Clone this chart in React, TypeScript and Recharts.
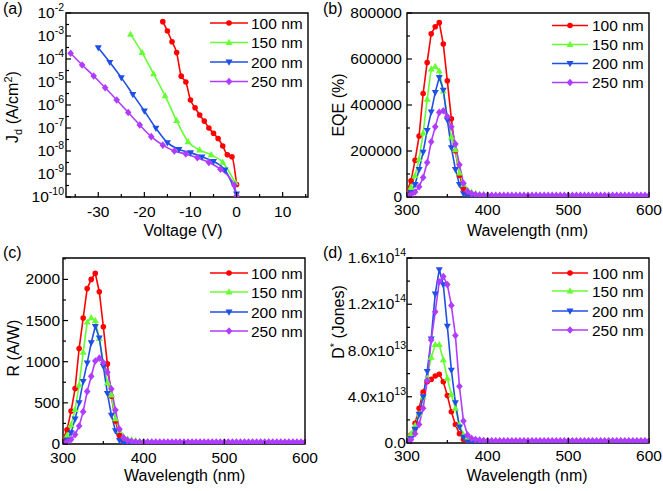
import React from 'react'
import { LineChart, Line, XAxis, YAxis, ReferenceArea, Customized } from 'recharts'

const FONT = '"Liberation Sans", Arial, Helvetica, sans-serif'

// legend entries (film thickness)
const thickness = ['100 nm', '150 nm', '200 nm', '250 nm']
const colors = ['#ff0000', '#66ff33', '#1f4fe6', '#b03cff']
type Shape = 'circle' | 'up' | 'down' | 'diamond'
const shapes: Shape[] = ['circle', 'up', 'down', 'diamond']
const keys = ['s100', 's150', 's200', 's250']

// (a) dark current: voltage (V) and current density (A/cm2)
const v100 = [-16, -15, -14, -13, -12, -11, -10, -9, -8, -7, -6, -5, -4, -3, -2, -1, 0]
const j100 = [4.2e-3, 1.66e-3, 5.6e-4, 1.9e-4, 1.8e-5, 1.0e-5, 1.66e-6, 7.6e-7, 3.7e-7, 2.0e-7, 1.0e-7, 5.9e-8, 3.5e-8, 1.66e-8, 6.8e-9, 5.6e-9, 3.5e-10]
const v150 = [-23, -20.5, -18, -15.5, -13, -10.5, -8, -5.5, -3, -0.3]
const j150 = [1.17e-3, 1.9e-4, 2.24e-5, 2.5e-6, 2.1e-7, 2.5e-8, 1.1e-8, 6.8e-9, 3.2e-9, 4.2e-10]
const v200 = [-30, -27.5, -25, -22.5, -20, -17.5, -15, -12.5, -10, -7.5, -5, -2.5, 0]
const j200 = [3.1e-4, 7.2e-5, 1.55e-5, 2.9e-6, 5.5e-7, 9.8e-8, 2.3e-8, 1.17e-8, 8.5e-9, 5.6e-9, 3.5e-9, 1.5e-9, 1.35e-10]
const v250 = [-36, -33.5, -31, -28.5, -26, -23.5, -21, -18.5, -16, -13.5, -11, -8.5, -6, -3.5, -0.5, 0]
const j250 = [1.78e-4, 5.5e-5, 1.82e-5, 5.6e-6, 1.66e-6, 4.7e-7, 1.35e-7, 4.2e-8, 1.8e-8, 1.0e-8, 7.4e-9, 5.1e-9, 3.2e-9, 1.6e-9, 3.3e-10, 1.1e-10]

// (b)-(d) spectra
const wavelengths = [
  300, 305, 310, 315, 320, 325, 330, 335, 340, 345, 350, 355, 360, 365, 370, 375, 380, 385, 390, 395,
  400, 405, 410, 415, 420, 425, 430, 435, 440, 445, 450, 455, 460, 465, 470, 475, 480, 485, 490, 495,
  500, 505, 510, 515, 520, 525, 530, 535, 540, 545, 550, 555, 560, 565, 570, 575, 580, 585, 590, 595, 600,
]

const eqe100 = [
  25000, 70000, 160000, 265000, 450000, 585000, 710000, 740000, 758000, 665000, 505000, 340000, 200000, 95000, 35000, 12000, 5000, 3000, 2000, 1500,
  1200, 1000, 1000, 1000, 1000, 1000, 1000, 1000, 1000, 1000, 1000, 1000, 1000, 1000, 1000, 1000, 1000, 1000, 1000, 1000,
  1000, 1000, 1000, 1000, 1000, 1000, 1000, 1000, 1000, 1000, 1000, 1000, 1000, 1000, 1000, 1000, 1000, 1000, 1000, 1000, 1000,
]
const eqe150 = [
  10000, 42000, 93000, 165000, 278000, 425000, 556000, 567000, 547000, 460000, 350000, 260000, 205000, 104000, 55000, 30000, 20000, 15000, 12000, 10000,
  8500, 7500, 6500, 6000, 5500, 5000, 5000, 5000, 5000, 5000, 5000, 5000, 5000, 5000, 5000, 5000, 5000, 5000, 5000, 5000,
  5000, 5000, 5000, 5000, 5000, 5000, 5000, 5000, 5000, 5000, 5000, 5000, 5000, 5000, 5000, 5000, 5000, 5000, 5000, 5000, 5000,
]
const eqe200 = [
  5000, 20000, 55000, 120000, 195000, 290000, 370000, 455000, 520000, 465000, 335000, 215000, 120000, 55000, 15000, 2000, 0, 0, 0, 0,
  0, 0, 0, 0, 0, 0, 0, 0, 0, 0, 0, 0, 0, 0, 0, 0, 0, 0, 0, 0,
  0, 0, 0, 0, 0, 0, 0, 0, 0, 0, 0, 0, 0, 0, 0, 0, 0, 0, 0, 0, 0,
]
const eqe250 = [
  3000, 10000, 22000, 45000, 85000, 150000, 240000, 305000, 368000, 375000, 350000, 305000, 230000, 140000, 60000, 25000, 15000, 11000, 9000, 8000,
  7500, 7000, 7000, 7000, 7000, 7000, 7000, 7000, 7000, 7000, 7000, 7000, 7000, 7000, 7000, 7000, 7000, 7000, 7000, 7000,
  7000, 7000, 7000, 7000, 7000, 7000, 7000, 7000, 7000, 7000, 7000, 7000, 7000, 7000, 7000, 7000, 7000, 7000, 7000, 7000, 7000,
]

const resp100 = [
  60, 172, 400, 673, 1160, 1530, 1890, 2000, 2075, 1850, 1425, 973, 581, 280, 104, 36, 15, 9, 6, 5,
  4, 4, 4, 4, 4, 4, 4, 4, 4, 4, 4, 4, 4, 4, 4, 4, 4, 4, 4, 4,
  4, 4, 4, 4, 4, 4, 4, 4, 4, 4, 4, 4, 4, 4, 4, 4, 4, 4, 4, 4, 4,
]
const resp150 = [
  24, 103, 232, 419, 717, 1114, 1480, 1532, 1500, 1280, 988, 744, 595, 306, 164, 91, 61, 47, 38, 32,
  27, 25, 22, 20, 19, 18, 18, 18, 18, 18, 18, 18, 18, 18, 18, 18, 18, 18, 18, 18,
  18, 18, 18, 18, 18, 18, 18, 18, 18, 18, 18, 18, 18, 18, 18, 18, 18, 18, 18, 18, 18,
]
const resp200 = [
  12, 50, 138, 305, 503, 760, 985, 1230, 1430, 1290, 945, 615, 350, 162, 45, 6, 0, 0, 0, 0,
  0, 0, 0, 0, 0, 0, 0, 0, 0, 0, 0, 0, 0, 0, 0, 0, 0, 0, 0, 0,
  0, 0, 0, 0, 0, 0, 0, 0, 0, 0, 0, 0, 0, 0, 0, 0, 0, 0, 0, 0, 0,
]
const resp250 = [
  7, 25, 55, 114, 219, 393, 639, 824, 1009, 1043, 988, 873, 668, 412, 179, 76, 46, 34, 28, 25,
  24, 24, 24, 24, 24, 24, 24, 24, 24, 24, 24, 24, 24, 24, 24, 24, 24, 24, 24, 24,
  24, 24, 24, 24, 24, 24, 24, 24, 24, 24, 24, 24, 24, 24, 24, 24, 24, 24, 24, 24, 24,
]

const det100 = [
  2e12, 7e12, 1.7e13, 3e13, 4.4e13, 5.3e13, 5.5e13, 5.8e13, 5.95e13, 5.3e13, 4.1e13, 2.7e13, 1.6e13, 8e12, 3e12, 8e11, 3e11, 2e11, 1e11, 1e11,
  1e11, 1e11, 1e11, 1e11, 1e11, 1e11, 1e11, 1e11, 1e11, 1e11, 1e11, 1e11, 1e11, 1e11, 1e11, 1e11, 1e11, 1e11, 1e11, 1e11,
  1e11, 1e11, 1e11, 1e11, 1e11, 1e11, 1e11, 1e11, 1e11, 1e11, 1e11, 1e11, 1e11, 1e11, 1e11, 1e11, 1e11, 1e11, 1e11, 1e11, 1e11,
]
const det150 = [
  2e12, 8e12, 1.5e13, 2.5e13, 4e13, 5.6e13, 7.4e13, 8.5e13, 8.5e13, 7.2e13, 5.6e13, 4.2e13, 3e13, 1.6e13, 7e12, 4.5e12, 3.5e12, 3e12, 2.5e12, 2.2e12,
  2e12, 1.8e12, 1.7e12, 1.6e12, 1.5e12, 1.4e12, 1.4e12, 1.4e12, 1.4e12, 1.4e12, 1.4e12, 1.4e12, 1.4e12, 1.4e12, 1.4e12, 1.4e12, 1.4e12, 1.4e12, 1.4e12, 1.4e12,
  1.4e12, 1.4e12, 1.4e12, 1.4e12, 1.4e12, 1.4e12, 1.4e12, 1.4e12, 1.4e12, 1.4e12, 1.4e12, 1.4e12, 1.4e12, 1.4e12, 1.4e12, 1.4e12, 1.4e12, 1.4e12, 1.4e12, 1.4e12, 1.4e12,
]
const det200 = [
  1e12, 4e12, 1.2e13, 2.5e13, 4e13, 6.2e13, 9e13, 1.29e14, 1.5e14, 1.37e14, 1.01e14, 6.3e13, 3.5e13, 1.4e13, 5e12, 1e12, 0, 0, 0, 0,
  0, 0, 0, 0, 0, 0, 0, 0, 0, 0, 0, 0, 0, 0, 0, 0, 0, 0, 0, 0,
  0, 0, 0, 0, 0, 0, 0, 0, 0, 0, 0, 0, 0, 0, 0, 0, 0, 0, 0, 0, 0,
]
const det250 = [
  1e12, 3e12, 8e12, 1.6e13, 3e13, 5.4e13, 8.9e13, 1.135e14, 1.395e14, 1.44e14, 1.37e14, 1.19e14, 9.3e13, 4.9e13, 1.9e13, 7e12, 4e12, 3e12, 2.5e12, 2.2e12,
  2e12, 2e12, 2e12, 2e12, 2e12, 2e12, 2e12, 2e12, 2e12, 2e12, 2e12, 2e12, 2e12, 2e12, 2e12, 2e12, 2e12, 2e12, 2e12, 2e12,
  2e12, 2e12, 2e12, 2e12, 2e12, 2e12, 2e12, 2e12, 2e12, 2e12, 2e12, 2e12, 2e12, 2e12, 2e12, 2e12, 2e12, 2e12, 2e12, 2e12, 2e12,
]

// ticks
const voltTicks = [-35, -30, -25, -20, -15, -10, -5, 0, 5, 10, 15]
const voltMajor = [-30, -20, -10, 0, 10]
const jTicks = [1e-10, 3.162e-10, 1e-9, 3.162e-9, 1e-8, 3.162e-8, 1e-7, 3.162e-7, 1e-6, 3.162e-6, 1e-5, 3.162e-5, 1e-4, 3.162e-4, 1e-3, 3.162e-3, 1e-2]
const jMajor = [1e-10, 1e-9, 1e-8, 1e-7, 1e-6, 1e-5, 1e-4, 1e-3, 1e-2]
const jLabels = ['10', '10', '10', '10', '10', '10', '10', '10', '10']
const jExps = ['-10', '-9', '-8', '-7', '-6', '-5', '-4', '-3', '-2']
const wlTicks = [300, 350, 400, 450, 500, 550, 600]
const wlMajor = [300, 400, 500, 600]
const eqeTicks = [0, 100000, 200000, 300000, 400000, 500000, 600000, 700000, 800000]
const eqeMajor = [0, 200000, 400000, 600000, 800000]
const eqeLabels = ['0', '200000', '400000', '600000', '800000']
const respTicks = [0, 250, 500, 750, 1000, 1250, 1500, 1750, 2000, 2250]
const respMajor = [0, 500, 1000, 1500, 2000]
const respLabels = ['0', '500', '1000', '1500', '2000']
const detTicks = [0, 2e13, 4e13, 6e13, 8e13, 1e14, 1.2e14, 1.4e14, 1.6e14]
const detMajor = [0, 4e13, 8e13, 1.2e14, 1.6e14]
const detLabels = ['0.0', '4.0x10', '8.0x10', '1.2x10', '1.6x10']
const detExps = ['', '13', '13', '14', '14']

const darkSeries = [
  v100.map((v, i) => ({ v, j: j100[i] })),
  v150.map((v, i) => ({ v, j: j150[i] })),
  v200.map((v, i) => ({ v, j: j200[i] })),
  v250.map((v, i) => ({ v, j: j250[i] })),
]
const makeTable = (a: number[], b: number[], c: number[], d: number[]) =>
  wavelengths.map((w, i) => ({ w, s100: a[i], s150: b[i], s200: c[i], s250: d[i] }))
const eqeData = makeTable(eqe100, eqe150, eqe200, eqe250)
const respData = makeTable(resp100, resp150, resp200, resp250)
const detData = makeTable(det100, det150, det200, det250)

function marker(shape: Shape, color: string, cx: number, cy: number) {
  switch (shape) {
    case 'circle':
      return <circle cx={cx} cy={cy} r={2.8} fill={color} />
    case 'up':
      return <path d={`M${cx} ${cy - 3.8}L${cx + 3.5} ${cy + 2.4}L${cx - 3.5} ${cy + 2.4}Z`} fill={color} />
    case 'down':
      return <path d={`M${cx} ${cy + 3.8}L${cx + 3.5} ${cy - 2.4}L${cx - 3.5} ${cy - 2.4}Z`} fill={color} />
    default:
      return <path d={`M${cx} ${cy - 3.8}L${cx + 3.3} ${cy}L${cx} ${cy + 3.8}L${cx - 3.3} ${cy}Z`} fill={color} />
  }
}

const dotFor = (i: number) => (p: any) => {
  if (p.cx == null || p.cy == null || !isFinite(p.cx) || !isFinite(p.cy)) return <g key={`n${p.index}`} />
  return <g key={`d${p.index}`}>{marker(shapes[i], colors[i], p.cx, p.cy)}</g>
}

const isSame = (a: number, b: number) => a === b || Math.abs(a - b) <= Math.abs(a) * 1e-6

const xTick = (plotB: number, majors: number[], dy: number) => (p: any) => {
  const v = p.payload.value
  const major = majors.some(m => isSame(m, v))
  return (
    <g>
      <line x1={p.x} x2={p.x} y1={plotB} y2={plotB - (major ? 5 : 3)} stroke="#000" strokeWidth={1.2} />
      {major && (
        <text x={p.x} y={plotB + dy} textAnchor="middle" fontSize={15.5} fontFamily={FONT} fill="#000">
          {String(v)}
        </text>
      )}
    </g>
  )
}

const yTick = (plotL: number, majors: number[], labels: string[], exps: string[], dx: number) => (p: any) => {
  const v = p.payload.value
  const k = majors.findIndex(m => isSame(m, v))
  return (
    <g>
      <line x1={plotL} x2={plotL + (k >= 0 ? 5 : 3)} y1={p.y} y2={p.y} stroke="#000" strokeWidth={1.2} />
      {k >= 0 && (
        <text x={plotL - dx} y={p.y + 5} textAnchor="end" fontSize={15.5} fontFamily={FONT} fill="#000">
          {labels[k]}
          {exps[k] && <tspan dy={-7} fontSize={10.5}>{exps[k]}</tspan>}
        </text>
      )}
    </g>
  )
}

interface DecoProps {
  tag: string
  tagX: number
  tagY: number
  xTitle: React.ReactNode
  xtX: number
  xtY: number
  yTitle: React.ReactNode
  ytX: number
  ytY: number
  lx0: number
  lx1: number
  ltx: number
  rows: number[]
}

function Deco(d: DecoProps) {
  return (
    <g fontFamily={FONT} fill="#000">
      <text x={d.tagX} y={d.tagY} fontSize={16}>{d.tag}</text>
      <text x={d.xtX} y={d.xtY} fontSize={16} textAnchor="middle">{d.xTitle}</text>
      <g transform={`translate(${d.ytX},${d.ytY}) rotate(-90)`}>
        <text x={0} y={5.5} fontSize={16} textAnchor="middle">{d.yTitle}</text>
      </g>
      {thickness.map((t, i) => (
        <g key={t}>
          <line x1={d.lx0} x2={d.lx1} y1={d.rows[i]} y2={d.rows[i]} stroke={colors[i]} strokeWidth={1.6} />
          {marker(shapes[i], colors[i], (d.lx0 + d.lx1) / 2, d.rows[i])}
          <text x={d.ltx} y={d.rows[i] + 5.5} fontSize={15.5}>{t}</text>
        </g>
      ))}
    </g>
  )
}

const XH = 40

function DarkPanel() {
  const box = { w: 330, h: 245, L: 66, R: 308, T: 13, B: 197 }
  return (
    <LineChart width={box.w} height={box.h} margin={{ top: box.T, right: box.w - box.R, bottom: box.h - box.B - XH, left: 0 }}>
      <XAxis type="number" dataKey="v" domain={[-37, 15.5]} allowDataOverflow ticks={voltTicks} interval={0}
        tick={xTick(box.B, voltMajor, 20)} tickLine={false} axisLine={false} height={XH} />
      <YAxis type="number" scale="log" domain={[1e-10, 1e-2]} allowDataOverflow ticks={jTicks} interval={0}
        tick={yTick(box.L, jMajor, jLabels, jExps, 2)} tickLine={false} axisLine={false} width={box.L} />
      <ReferenceArea x1={-37} x2={15.5} y1={1e-10} y2={1e-2} fill="none" stroke="#000" strokeWidth={1.4} />
      {darkSeries.map((s, i) => (
        <Line key={keys[i]} data={s} dataKey="j" type="monotone" stroke={colors[i]} strokeWidth={1.6}
          dot={dotFor(i)} activeDot={false} isAnimationActive={false} />
      ))}
      <Customized component={
        <Deco tag="(a)" tagX={3} tagY={14} xTitle="Voltage (V)" xtX={183} xtY={236}
          yTitle={<>J<tspan dy={4} fontSize={11}>d</tspan><tspan dy={-4}> (A/cm</tspan><tspan dy={-6} fontSize={11}>2</tspan><tspan dy={6}>)</tspan></>}
          ytX={12} ytY={107} lx0={210} lx1={248} ltx={251} rows={[23, 42.5, 62, 81.5]} />
      } />
    </LineChart>
  )
}

interface SpecProps {
  data: any[]
  w: number
  h: number
  L: number
  R: number
  T: number
  B: number
  yMax: number
  ticks: number[]
  majors: number[]
  labels: string[]
  exps: string[]
  labelDx: number
  tickDy: number
  deco: DecoProps
}

function SpectrumPanel(p: SpecProps) {
  return (
    <LineChart width={p.w} height={p.h} data={p.data} margin={{ top: p.T, right: p.w - p.R, bottom: p.h - p.B - XH, left: 0 }}>
      <XAxis type="number" dataKey="w" domain={[300, 600]} allowDataOverflow ticks={wlTicks} interval={0}
        tick={xTick(p.B, wlMajor, p.tickDy)} tickLine={false} axisLine={false} height={XH} />
      <YAxis type="number" domain={[0, p.yMax]} allowDataOverflow ticks={p.ticks} interval={0}
        tick={yTick(p.L, p.majors, p.labels, p.exps, p.labelDx)} tickLine={false} axisLine={false} width={p.L} />
      <ReferenceArea x1={300} x2={600} y1={0} y2={p.yMax} fill="none" stroke="#000" strokeWidth={1.4} />
      {keys.map((k, i) => (
        <Line key={k} dataKey={k} type="linear" stroke={colors[i]} strokeWidth={1.6}
          dot={dotFor(i)} activeDot={false} isAnimationActive={false} />
      ))}
      <Customized component={<Deco {...p.deco} />} />
    </LineChart>
  )
}

const noExp = ['', '', '', '', '']

export default function App() {
  return (
    <div style={{ position: 'absolute', left: 0, top: 0, width: 663, height: 491, background: '#fff', fontFamily: FONT }}>
      <div style={{ position: 'absolute', left: 0, top: 0 }}>
        <DarkPanel />
      </div>
      <div style={{ position: 'absolute', left: 314, top: 0 }}>
        <SpectrumPanel data={eqeData} w={349} h={245} L={93} R={335} T={13} B={197} yMax={800000}
          ticks={eqeTicks} majors={eqeMajor} labels={eqeLabels} exps={noExp} labelDx={5} tickDy={18}
          deco={{ tag: '(b)', tagX: 9, tagY: 14, xTitle: 'Wavelength (nm)', xtX: 213.5, xtY: 236,
            yTitle: 'EQE (%)', ytX: 24, ytY: 105, lx0: 238, lx1: 274, ltx: 278, rows: [25.5, 44.5, 63.5, 82.5] }} />
      </div>
      <div style={{ position: 'absolute', left: 0, top: 245 }}>
        <SpectrumPanel data={respData} w={330} h={246} L={63} R={305} T={13} B={199} yMax={2260}
          ticks={respTicks} majors={respMajor} labels={respLabels} exps={noExp} labelDx={3} tickDy={18.5}
          deco={{ tag: '(c)', tagX: 3, tagY: 13, xTitle: 'Wavelength (nm)', xtX: 184.7, xtY: 236,
            yTitle: 'R (A/W)', ytX: 13, ytY: 103, lx0: 210, lx1: 248, ltx: 251, rows: [28, 47, 67, 86] }} />
      </div>
      <div style={{ position: 'absolute', left: 314, top: 245 }}>
        <SpectrumPanel data={detData} w={349} h={246} L={93} R={335} T={13} B={198} yMax={1.6e14}
          ticks={detTicks} majors={detMajor} labels={detLabels} exps={detExps} labelDx={1} tickDy={18}
          deco={{ tag: '(d)', tagX: 9, tagY: 13, xTitle: 'Wavelength (nm)', xtX: 213, xtY: 236,
            yTitle: <>D<tspan dy={-6} fontSize={11}>*</tspan><tspan dy={6}> (Jones)</tspan></>,
            ytX: 24, ytY: 77, lx0: 238, lx1: 274, ltx: 278, rows: [28, 46, 66, 85] }} />
      </div>
    </div>
  )
}
